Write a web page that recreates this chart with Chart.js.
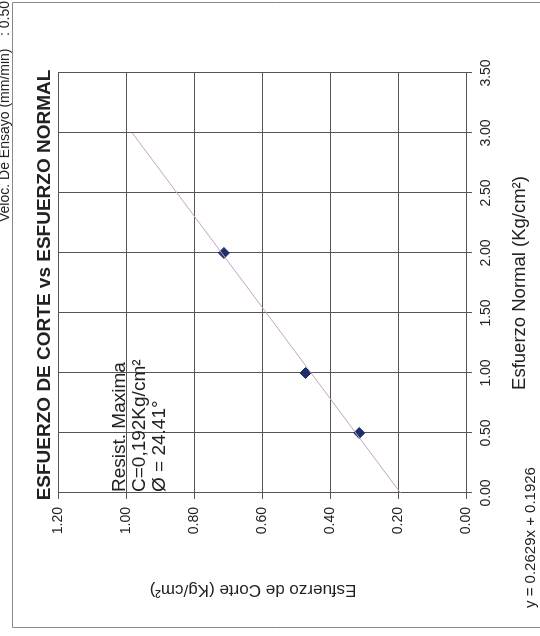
<!DOCTYPE html>
<html>
<head>
<meta charset="utf-8">
<script src="https://cdn.jsdelivr.net/npm/chart.js@4.4.1/dist/chart.umd.min.js"></script>
<style>
  html, body { margin: 0; padding: 0; background: #fff; overflow: hidden; }
  #page { position: absolute; left: 0; top: 0; width: 540px; height: 636px; overflow: hidden; background: #fff; }
  /* the scanned sheet is turned a quarter turn, so draw upright and rotate */
  #rot { position: absolute; left: 0; top: 0; width: 636px; height: 540px;
         transform-origin: 0 0; transform: translate(0, 636px) rotate(-90deg); }
  canvas { display: block; }
</style>
</head>
<body>
<div id="page"><div id="rot"><canvas id="chart" width="636" height="540"></canvas></div></div>
<script>
'use strict';

// ─── Data ─────────────────────────────────────────────
const esfuerzoNormal = [0.50, 1.00, 2.00];      // Kg/cm²
const esfuerzoCorte  = [0.314, 0.472, 0.712];   // Kg/cm²
const trendX = [0.00, 3.00];
const trendY = [0.1926, 0.9813];                 // y = 0.2629x + 0.1926
const xRange = [0, 3.5];
const yRange = [0, 1.2];

const FONT = "'Liberation Sans', Arial, sans-serif";
const GRID = '#555';

// ─── Extra texts drawn on the canvas ─────────────────
const sheetText = {
  id: 'sheetText',
  afterDraw(chart) {
    const { ctx } = chart;
    ctx.save();
    // frame of the sheet
    ctx.strokeStyle = '#888';
    ctx.lineWidth = 1;
    ctx.beginPath();
    ctx.moveTo(8.5, 540); ctx.lineTo(8.5, 12.5); ctx.lineTo(633.5, 12.5); ctx.lineTo(633.5, 540);
    ctx.stroke();

    ctx.fillStyle = '#222';
    ctx.textBaseline = 'middle';

    // header line
    ctx.font = `14px ${FONT}`;
    ctx.textAlign = 'left';
    ctx.fillText('Veloc. De Ensayo (mm/min)', 414, 5);
    ctx.fillText(': 0.50', 600, 5);

    // title
    ctx.font = `bold 19px ${FONT}`;
    ctx.textAlign = 'center';
    ctx.fillText('ESFUERZO DE CORTE vs ESFUERZO NORMAL', 351, 45);

    // y axis title, a little off the plot centre as on the sheet
    ctx.save();
    ctx.translate(46, 253);
    ctx.rotate(-Math.PI / 2);
    ctx.font = `17px ${FONT}`;
    ctx.fillText('Esfuerzo de Corte (Kg/cm²)', 0, 0);
    ctx.restore();

    // result box
    ctx.font = `19px ${FONT}`;
    ctx.textAlign = 'left';
    ctx.fillText('Resist. Maxima', 144, 120);
    ctx.fillText('C=0,192Kg/cm²', 144, 140);
    ctx.fillText('Ø = 24.41°', 144, 160);

    // trend equation
    ctx.font = `15px ${FONT}`;
    ctx.fillText('y = 0.2629x + 0.1926', 28, 531);
    ctx.restore();
  }
};

new Chart(document.getElementById('chart'), {
  type: 'scatter',
  data: {
    datasets: [
      {
        label: 'Lineal',
        type: 'line',
        data: trendX.map((x, i) => ({ x, y: trendY[i] })),
        borderColor: '#c8a2bd',
        borderWidth: 1,
        pointRadius: 0,
        fill: false,
      },
      {
        label: 'Ensayos',
        data: esfuerzoNormal.map((x, i) => ({ x, y: esfuerzoCorte[i] })),
        pointStyle: 'rectRot',
        pointRadius: 5.5,
        backgroundColor: '#1f2d6b',
        borderColor: '#1f2d6b',
        borderWidth: 1,
      }
    ]
  },
  options: {
    responsive: false,
    animation: false,
    devicePixelRatio: 1,
    layout: { padding: { left: 0, right: 73, top: 58, bottom: 0 } },
    plugins: { legend: { display: false }, tooltip: { enabled: false } },
    scales: {
      x: {
        type: 'linear',
        min: xRange[0], max: xRange[1],
        afterFit: s => { s.height = 74; },
        border: { color: GRID, width: 1 },
        grid: { color: GRID, lineWidth: 1, tickLength: 6 },
        ticks: { stepSize: 0.5, color: '#222', font: { family: FONT, size: 14 }, padding: 6,
                 maxRotation: 0, callback: v => v.toFixed(2) },
        title: { display: true, text: 'Esfuerzo Normal (Kg/cm²)', color: '#222',
                 font: { family: FONT, size: 18.5 }, padding: { bottom: 9 } }
      },
      y: {
        type: 'linear',
        min: yRange[0], max: yRange[1],
        afterFit: s => { s.width = 143; },
        border: { color: GRID, width: 1 },
        grid: { color: GRID, lineWidth: 1, tickLength: 6 },
        ticks: { stepSize: 0.2, color: '#222', font: { family: FONT, size: 14 }, padding: 8,
                 callback: v => v.toFixed(2) },
        title: { display: false }
      }
    }
  },
  plugins: [sheetText]
});
</script>
</body>
</html>
